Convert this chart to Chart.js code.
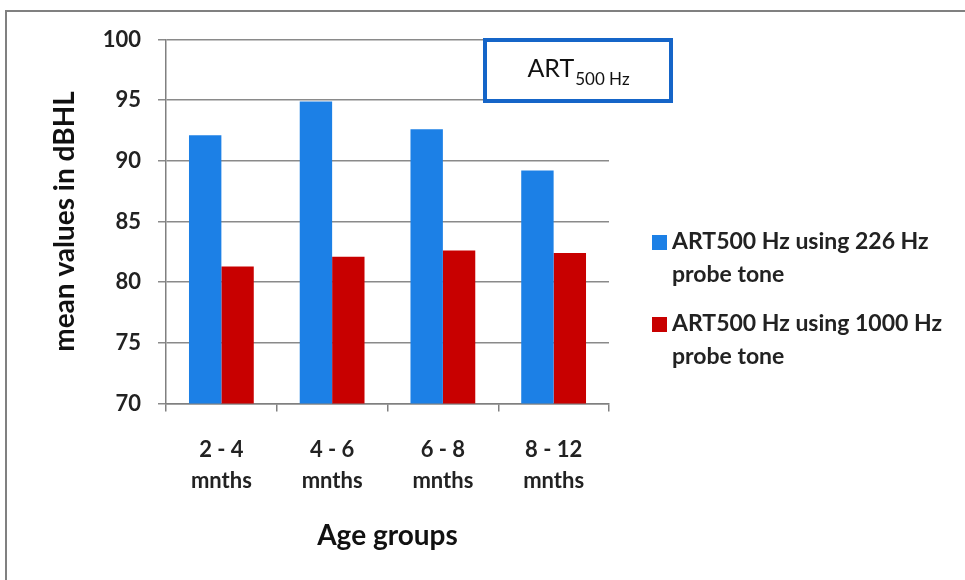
<!DOCTYPE html>
<html>
<head>
<meta charset="utf-8">
<script src="https://cdn.jsdelivr.net/npm/chart.js@4"></script>
<style>
html,body{margin:0;padding:0;background:#fff;}
#wrap{position:relative;width:965px;height:580px;}
canvas{display:block;}
</style>
</head>
<body>
<div id="wrap"><canvas id="c" width="965" height="580"></canvas></div>
<script>
const categories = [["2 - 4","mnths"],["4 - 6","mnths"],["6 - 8","mnths"],["8 - 12","mnths"]];
const series226 = [92.1, 94.9, 92.6, 89.2];
const series1000 = [81.3, 82.1, 82.6, 82.4];
const seriesNames = [["ART500 Hz using 226 Hz","probe tone"],["ART500 Hz using 1000 Hz","probe tone"]];
const yTicks = [70, 75, 80, 85, 90, 95, 100];
const boxTitleMain = "ART";
const boxTitleSub = "500 Hz";
const yTitle = "mean values in dBHL";
const xTitle = "Age groups";

const FONT = "Lato, 'Open Sans', sans-serif";
const BLUE = "#1c80e6";
const RED = "#c80000";

const decor = {
  id: 'decor',
  beforeDraw(chart) {
    const ctx = chart.ctx;
    ctx.save();
    ctx.fillStyle = '#fff';
    ctx.fillRect(0,0,chart.width,chart.height);
    ctx.strokeStyle = '#808080';
    ctx.lineWidth = 2;
    ctx.beginPath();
    ctx.moveTo(6, 580);
    ctx.lineTo(6, 11);
    ctx.lineTo(965, 11);
    ctx.stroke();
    ctx.restore();
  },
  afterDraw(chart) {
    const ctx = chart.ctx;
    ctx.save();
    // title box
    ctx.strokeStyle = '#1565c8';
    ctx.lineWidth = 4;
    ctx.fillStyle = '#fff';
    ctx.fillRect(485, 40, 186, 61);
    ctx.strokeRect(485, 40, 186, 61);
    ctx.fillStyle = '#111';
    ctx.textBaseline = 'alphabetic';
    ctx.font = "25px " + FONT;
    const w1 = ctx.measureText(boxTitleMain).width;
    ctx.font = "17px " + FONT;
    const w2 = ctx.measureText(boxTitleSub).width;
    const x0 = 578 - (w1 + w2) / 2;
    ctx.font = "25px " + FONT;
    ctx.fillText(boxTitleMain, x0, 77);
    ctx.font = "17px " + FONT;
    ctx.fillText(boxTitleSub, x0 + w1 + 1, 85);
    // legend
    const colors = chart.data.datasets.map(d => d.backgroundColor);
    const legY = [242, 324];
    ctx.font = "bold 23px " + FONT;
    ctx.textBaseline = 'middle';
    seriesNames.forEach((lines, i) => {
      ctx.fillStyle = colors[i];
      ctx.fillRect(652, legY[i] - 7, 15, 15);
      ctx.fillStyle = '#222';
      lines.forEach((t, j) => ctx.fillText(t, 672, legY[i] + j * 33));
    });
    ctx.restore();
  }
};

new Chart(document.getElementById('c'), {
  type: 'bar',
  data: {
    labels: categories,
    datasets: [
      { label: seriesNames[0].join(' '), data: series226, backgroundColor: BLUE, categoryPercentage: 0.585, barPercentage: 1.0 },
      { label: seriesNames[1].join(' '), data: series1000, backgroundColor: RED, categoryPercentage: 0.585, barPercentage: 1.0 }
    ]
  },
  options: {
    responsive: false,
    animation: false,
    devicePixelRatio: 1,
    layout: { padding: { left: 44, right: 356, top: 39.5, bottom: 20 } },
    plugins: { legend: { display: false }, tooltip: { enabled: false }, title: { display: false } },
    scales: {
      y: {
        min: 70, max: 100,
        afterBuildTicks(scale) { scale.ticks = yTicks.map(v => ({ value: v })); },
        afterFit(scale) { scale.width = 166 - 44; },
        border: { color: '#808080', width: 1.5 },
        grid: { color: '#8a8a8a', lineWidth: 1.5, tickLength: 8, drawTicks: true },
        ticks: { color: '#222', font: { family: FONT, size: 22, weight: 'bold' }, padding: 17 },
        title: { display: true, text: yTitle, color: '#111', font: { family: FONT, size: 28, weight: 'bold' }, padding: { top: 4, bottom: 0 } }
      },
      x: {
        afterFit(scale) { scale.height = 580 - 403.5 - 20; },
        border: { color: '#808080', width: 1.5 },
        grid: { display: true, drawOnChartArea: false, color: '#808080', lineWidth: 1.5, tickLength: 8, offset: true },
        ticks: { color: '#222', font: { family: FONT, size: 22, weight: 'bold', lineHeight: 1.45 }, padding: 22, maxRotation: 0 },
        title: { display: true, text: xTitle, color: '#111', font: { family: FONT, size: 28, weight: 'bold' }, padding: { top: 0, bottom: 7 } }
      }
    }
  },
  plugins: [decor]
});
</script>
</body>
</html>
